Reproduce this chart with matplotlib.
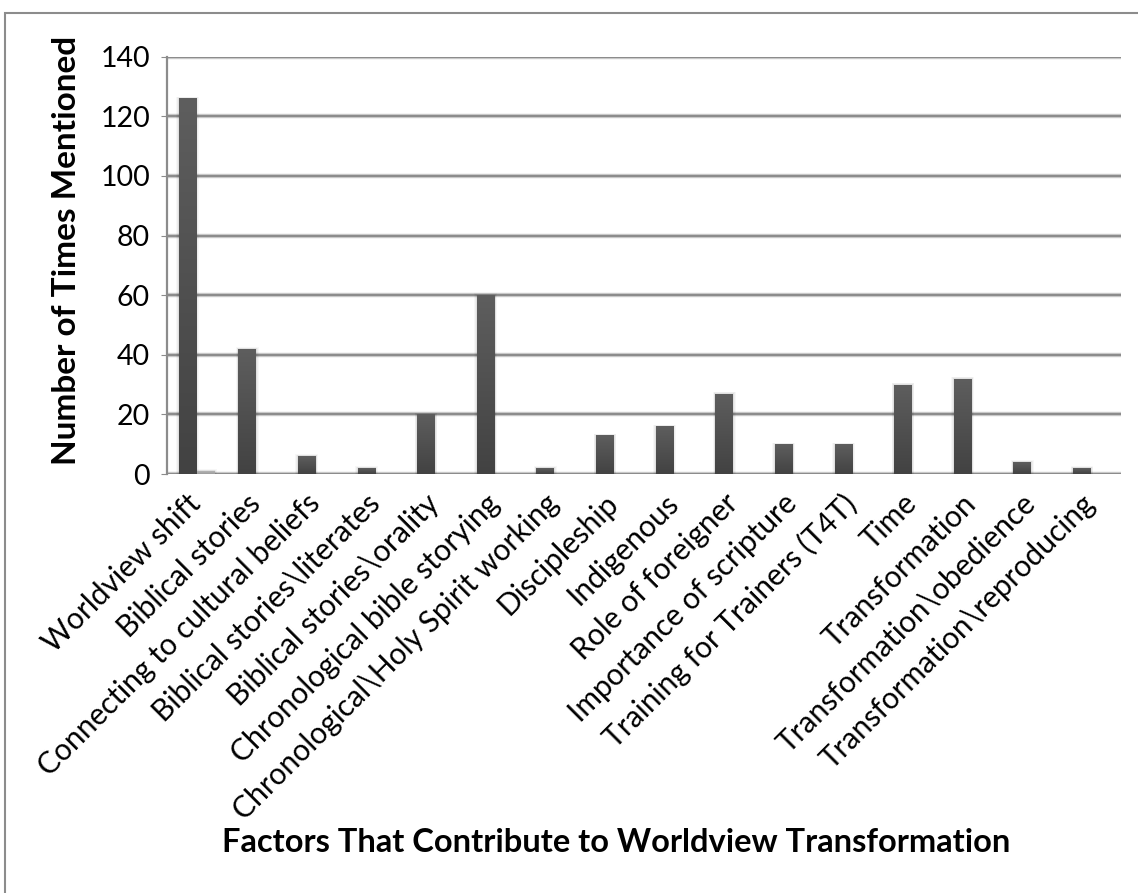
import numpy as np
import matplotlib
matplotlib.use("Agg")
import matplotlib.pyplot as plt
from matplotlib.patches import Rectangle
from matplotlib.colors import LinearSegmentedColormap

categories = [
    "Worldview shift",
    "Biblical stories",
    "Connecting to cultural beliefs",
    "Biblical stories\\literates",
    "Biblical stories\\orality",
    "Chronological bible storying",
    "Chronological\\Holy Spirit working",
    "Discipleship",
    "Indigenous",
    "Role of foreigner",
    "Importance of scripture",
    "Training for Trainers (T4T)",
    "Time",
    "Transformation",
    "Transformation\\obedience",
    "Transformation\\reproducing",
]
mentions = [126, 42, 6, 2, 20, 60, 2, 13, 16, 27, 10, 10, 30, 32, 4, 2]
secondary = [1, 0, 0, 0, 0, 0, 0, 0, 0, 0, 0, 0, 0, 0, 0, 0]
y_ticks = [0, 20, 40, 60, 80, 100, 120, 140]

plt.rcParams["font.family"] = ["Lato", "DejaVu Sans"]

W, H = 1138, 893
fig = plt.figure(figsize=(W / 100, H / 100), dpi=100)
fig.patch.set_facecolor("white")

# outer chart frame
fig.patches.append(Rectangle((5 / W, -0.05), 1.2, 1 - 13 / H + 0.05,
                             transform=fig.transFigure, fill=False,
                             edgecolor="#8c8c8c", linewidth=1.5))

ax = fig.add_axes([166.7 / W, 1 - 474 / H, (1120.7 - 166.7) / W, (474 - 56.7) / H])
ax.set_xlim(-0.5, len(categories) - 0.5)
ax.set_ylim(0, 140)

for v in y_ticks:
    ax.axhline(v, color="#d0d0d0", linewidth=3.2, zorder=0.5)
    ax.axhline(v, color="#8c8c8c", linewidth=1.6, zorder=0.6)

x = np.arange(len(categories))
bw = 0.3

dark = LinearSegmentedColormap.from_list("dark", ["#424242", "#5e5e5e"])
light = LinearSegmentedColormap.from_list("light", ["#9c9c9c", "#b4b4b4"])
grad = np.linspace(0, 1, 256).reshape(-1, 1)


def draw_series(vals, offset, cmap):
    bars = ax.bar(x + offset, vals, width=bw, color="none", zorder=2, linewidth=0)
    for b in bars:
        h = b.get_height()
        if h <= 0:
            continue
        x0 = b.get_x()
        # soft shadow around the bar
        for k, a in [(0.08, 0.03), (0.055, 0.04), (0.03, 0.05)]:
            ax.add_patch(Rectangle((x0 - k / 2, 0), bw + k, h + k * 7,
                                   facecolor="#000000", alpha=a, linewidth=0, zorder=1.5))
        im = ax.imshow(grad, extent=(x0, x0 + bw, 0, h), origin="lower",
                       cmap=cmap, aspect="auto", zorder=2.1, interpolation="bilinear")
        im.set_clip_path(b)


draw_series(mentions, -bw / 2, dark)
draw_series(secondary, bw / 2, light)
ax.set_xlim(-0.5, len(categories) - 0.5)
ax.set_ylim(0, 140)

for s in ["top", "right", "bottom"]:
    ax.spines[s].set_visible(False)
ax.spines["left"].set_color("#8c8c8c")
ax.spines["left"].set_linewidth(1.6)

ax.set_yticks(y_ticks)
ax.set_yticklabels([str(v) for v in y_ticks], fontsize=20.5)
ax.tick_params(axis="y", length=4, color="#8c8c8c", pad=8)
ax.set_xticks(x)
ax.set_xticklabels(categories, rotation=45, ha="right", va="center",
                   rotation_mode="anchor", fontsize=21.5)
ax.tick_params(axis="x", length=0, pad=18)

ax.set_ylabel("Number of Times Mentioned", fontsize=24, fontweight="bold",
              va="center")
ax.yaxis.set_label_coords((67 - 166.7) / 954, (474 - 250) / 417.3)
fig.text(616 / W, 1 - 843 / H, "Factors That Contribute to Worldview Transformation",
         ha="center", va="center", fontsize=23.5, fontweight="bold")

fig.savefig("out.png", dpi=100, facecolor="white")
